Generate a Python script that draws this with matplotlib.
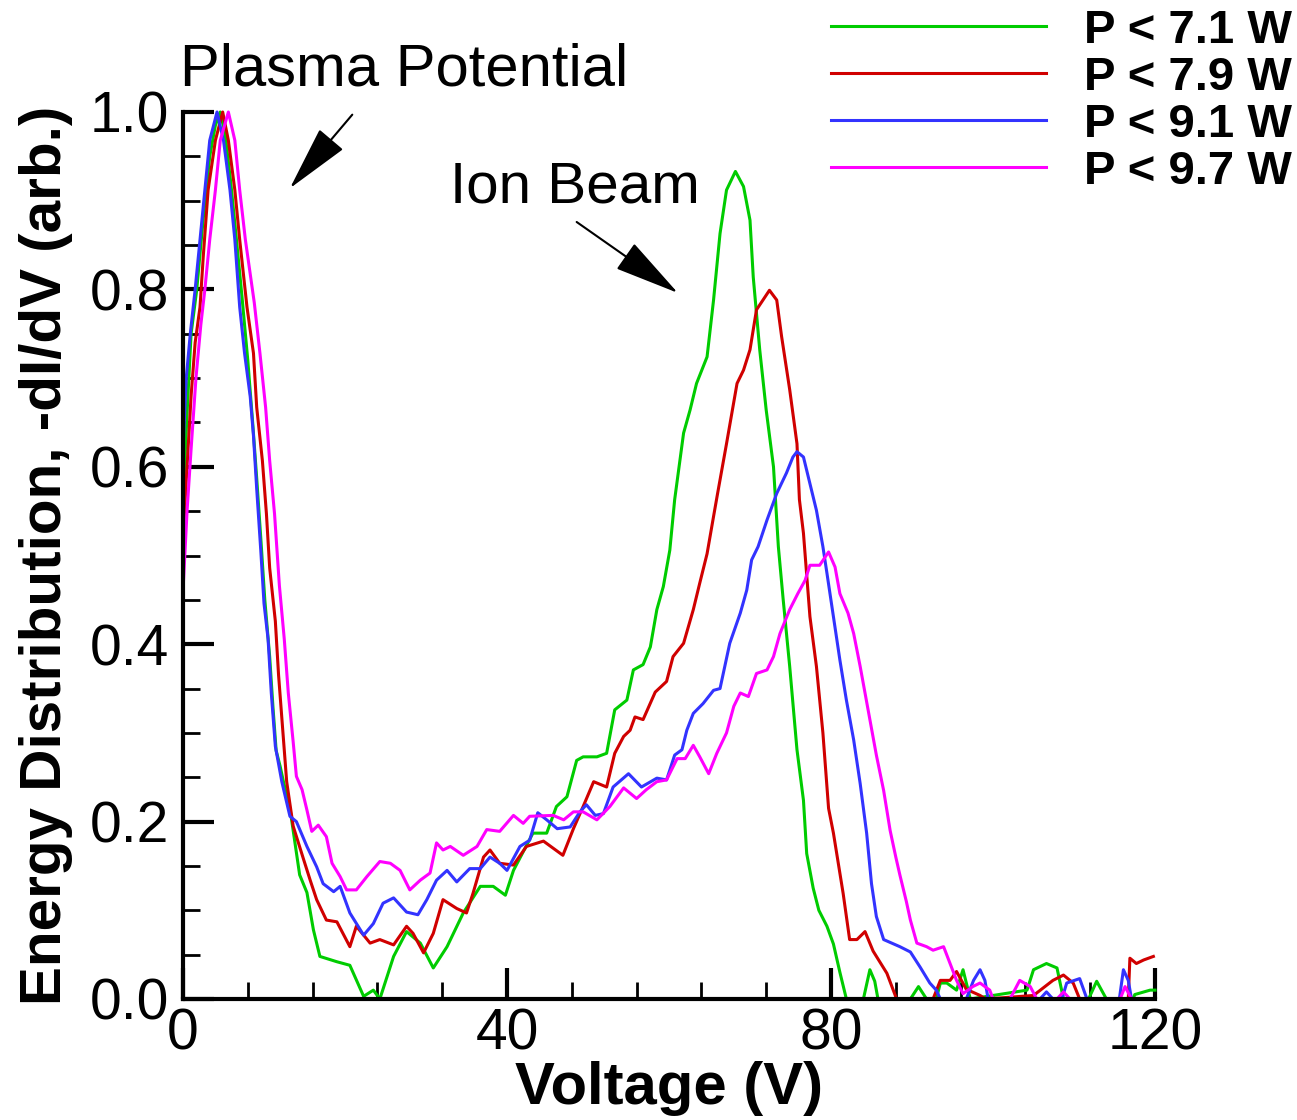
import numpy as np
import matplotlib
matplotlib.use("Agg")
import matplotlib.pyplot as plt
from matplotlib.ticker import MultipleLocator, FormatStrFormatter

plt.rcParams['font.family'] = ['Liberation Sans', 'DejaVu Sans']

# P < 7.1 W
v_71 = [0.0, 0.5, 1.0, 1.7, 2.5, 3.3, 4.0, 4.6, 5.2, 5.9, 6.6, 7.3, 8.0, 8.6, 9.1, 9.6,
        10.1, 10.7, 11.1, 11.5, 12.0, 12.4, 13.2, 13.6, 14.4, 15.3, 16.1, 16.9, 19.0, 20.6,
        22.3, 23.5, 24.3, 26.0, 27.6, 29.3, 30.9, 32.6, 34.6, 36.7, 38.3, 39.8, 40.8, 43.2,
        44.9, 46.1, 47.4, 48.6, 49.4, 51.1, 52.3, 53.3, 54.8, 55.6, 56.8, 57.7, 58.5, 59.3,
        60.1, 60.7, 61.8, 62.6, 63.4, 64.7, 65.5, 66.3, 67.1, 68.2, 69.2, 70.0, 70.4, 71.2,
        72.0, 72.9, 73.5, 74.1, 74.9, 75.8, 76.6, 77.0, 77.8, 78.5, 79.5, 80.3, 81.1, 81.9,
        84.0, 84.8, 85.4, 85.8, 89.8, 90.8, 91.8, 93.0, 93.5, 94.3, 95.5, 96.3, 97.2, 104.2,
        105.0, 106.6, 107.9, 108.7, 111.8, 112.8, 114.0, 117.3, 117.5, 119.4, 120.0]
y_71 = [0.56, 0.66, 0.75, 0.80, 0.88, 0.95, 0.985, 1.0, 0.975, 0.92, 0.856, 0.79, 0.72, 0.65, 0.587, 0.52,
        0.45, 0.386, 0.33, 0.28, 0.262, 0.245, 0.215, 0.19, 0.14, 0.12, 0.078, 0.048, 0.042, 0.038,
        0.003, 0.01, 0.0, 0.048, 0.076, 0.063, 0.035, 0.059, 0.097, 0.127, 0.127, 0.117, 0.145, 0.187,
        0.187, 0.217, 0.228, 0.269, 0.273, 0.273, 0.277, 0.326, 0.337, 0.371, 0.377, 0.397, 0.439, 0.465,
        0.506, 0.563, 0.638, 0.664, 0.694, 0.724, 0.788, 0.863, 0.912, 0.933, 0.916, 0.878, 0.814, 0.732,
        0.664, 0.600, 0.51, 0.45, 0.375, 0.281, 0.224, 0.164, 0.125, 0.100, 0.082, 0.062, 0.03, 0.0,
        0.0, 0.033, 0.02, 0.0, 0.0, 0.014, 0.0, 0.0, 0.018, 0.018, 0.01, 0.033, 0.0, 0.01,
        0.033, 0.040, 0.035, 0.0, 0.0, 0.02, 0.0, 0.0, 0.005, 0.01, 0.01]

# P < 7.9 W
v_79 = [0.0, 0.5, 1.0, 1.5, 2.1, 2.5, 3.1, 4.0, 4.9, 5.6, 6.4, 7.0, 7.9, 8.7, 9.1, 9.8,
        10.3, 10.7, 11.4, 11.8, 12.3, 12.8, 13.6, 14.9, 15.7, 16.5, 17.7, 19.0, 20.6, 21.4,
        23.1, 24.3, 26.0, 27.6, 28.4, 29.7, 30.9, 32.1, 33.8, 35.0, 35.8, 37.1, 37.9, 39.1,
        40.8, 42.4, 44.5, 46.9, 48.2, 49.4, 50.7, 52.3, 53.3, 54.4, 55.2, 55.8, 56.8, 58.3,
        59.7, 60.5, 61.8, 63.0, 63.8, 64.7, 65.5, 66.0, 67.1, 68.4, 69.2, 70.0, 70.8, 71.6,
        72.4, 73.3, 73.9, 74.9, 75.8, 76.1, 76.6, 77.4, 78.2, 79.0, 79.7, 80.3, 81.5, 82.3,
        83.2, 84.2, 85.2, 86.9, 88.1, 92.6, 93.5, 94.7, 95.5, 96.7, 98.4, 99.1, 105.0, 107.4,
        108.7, 109.9, 110.7, 116.7, 116.9, 117.7, 118.6, 119.8]
y_79 = [0.52, 0.60, 0.68, 0.74, 0.78, 0.837, 0.912, 0.968, 1.0, 0.968, 0.912, 0.856, 0.78, 0.728, 0.667, 0.607,
        0.547, 0.486, 0.426, 0.365, 0.305, 0.245, 0.195, 0.157, 0.134, 0.112, 0.089, 0.087, 0.059, 0.082,
        0.063, 0.067, 0.061, 0.082, 0.074, 0.052, 0.074, 0.112, 0.102, 0.097, 0.119, 0.160, 0.168, 0.153,
        0.151, 0.172, 0.178, 0.162, 0.192, 0.217, 0.245, 0.239, 0.277, 0.296, 0.303, 0.318, 0.315, 0.346,
        0.358, 0.386, 0.401, 0.439, 0.469, 0.502, 0.544, 0.570, 0.626, 0.694, 0.709, 0.732, 0.777, 0.788,
        0.799, 0.788, 0.747, 0.687, 0.626, 0.563, 0.525, 0.431, 0.375, 0.300, 0.215, 0.187, 0.119, 0.067,
        0.067, 0.076, 0.054, 0.029, 0.0, 0.0, 0.021, 0.021, 0.031, 0.011, 0.004, 0.0, 0.004, 0.021,
        0.027, 0.018, 0.0, 0.0, 0.046, 0.040, 0.044, 0.048]

# P < 9.1 W
v_91 = [0.0, 0.4, 0.9, 1.5, 2.1, 2.7, 3.3, 4.2, 5.0, 5.8, 6.4, 7.0, 7.6, 8.3, 8.7, 9.1,
        9.6, 10.0, 10.5, 10.9, 11.4, 12.2, 13.2, 14.0, 15.3, 16.5, 17.3, 18.6, 19.4, 20.6,
        22.3, 23.5, 24.7, 26.0, 27.6, 29.0, 30.1, 31.3, 32.6, 33.8, 35.4, 36.7, 37.9, 39.1,
        40.0, 41.6, 42.8, 43.8, 44.9, 46.2, 47.8, 49.0, 49.8, 50.9, 51.9, 53.1, 55.0, 56.6,
        58.5, 59.7, 60.7, 61.6, 62.2, 63.0, 64.2, 65.5, 66.3, 67.5, 68.8, 69.6, 70.2, 71.0,
        72.1, 73.3, 74.5, 75.3, 75.8, 76.6, 77.4, 78.2, 79.0, 79.5, 80.3, 81.1, 81.9, 82.8,
        83.6, 84.4, 85.0, 85.6, 86.5, 88.5, 89.8, 91.0, 92.2, 93.0, 93.5, 96.7, 97.6, 98.4,
        99.0, 99.4, 105.8, 106.6, 107.4, 108.5, 109.1, 110.7, 111.6, 115.6, 116.1, 116.7, 117.1, 120.0]
y_91 = [0.62, 0.70, 0.75, 0.80, 0.856, 0.912, 0.968, 1.0, 0.968, 0.912, 0.856, 0.78, 0.728, 0.679, 0.635, 0.575,
        0.506, 0.446, 0.406, 0.345, 0.285, 0.245, 0.206, 0.2, 0.172, 0.149, 0.130, 0.121, 0.127, 0.097,
        0.072, 0.085, 0.108, 0.114, 0.098, 0.095, 0.112, 0.134, 0.145, 0.132, 0.147, 0.147, 0.160, 0.153,
        0.145, 0.172, 0.179, 0.210, 0.202, 0.192, 0.194, 0.211, 0.219, 0.207, 0.209, 0.239, 0.254, 0.239,
        0.249, 0.247, 0.275, 0.281, 0.303, 0.322, 0.333, 0.348, 0.350, 0.401, 0.435, 0.461, 0.495, 0.510,
        0.540, 0.570, 0.593, 0.611, 0.617, 0.611, 0.581, 0.551, 0.51, 0.48, 0.431, 0.382, 0.337, 0.292,
        0.243, 0.187, 0.130, 0.093, 0.067, 0.059, 0.053, 0.036, 0.018, 0.010, 0.0, 0.0, 0.021, 0.033,
        0.021, 0.0, 0.0, 0.008, 0.0, 0.0, 0.018, 0.023, 0.0, 0.0, 0.033, 0.021, 0.0, 0.0]

# P < 9.7 W
v_97 = [0.0, 0.5, 1.0, 1.6, 2.2, 2.7, 3.3, 4.0, 4.6, 5.6, 6.4, 7.0, 7.7, 8.8, 9.5, 10.2,
        10.7, 11.3, 11.9, 12.5, 13.0, 13.6, 14.0, 14.7, 15.3, 15.9, 16.7, 17.7, 18.4, 19.4,
        20.2, 21.4, 22.7, 24.3, 25.6, 26.8, 28.0, 29.3, 30.5, 31.3, 32.1, 33.0, 34.6, 36.3,
        37.5, 39.1, 40.8, 42.0, 42.8, 45.7, 47.0, 48.2, 49.4, 51.1, 52.7, 54.4, 56.0, 57.2,
        58.5, 59.7, 61.0, 62.0, 63.0, 63.8, 64.9, 65.9, 67.1, 68.0, 68.8, 69.8, 70.8, 72.1,
        72.9, 73.7, 74.9, 75.9, 76.8, 77.4, 78.6, 79.7, 80.5, 81.1, 82.1, 82.8, 83.6, 84.6,
        85.6, 86.5, 87.3, 88.0, 88.5, 89.3, 89.8, 90.6, 91.8, 92.6, 93.9, 94.7, 95.5, 96.3,
        97.5, 98.4, 99.6, 100.0, 102.1, 103.3, 104.6, 105.4, 107.9, 108.7, 109.5, 115.7, 116.3, 117.1, 120.0]
y_97 = [0.46, 0.55, 0.62, 0.70, 0.76, 0.80, 0.856, 0.912, 0.968, 1.0, 0.968, 0.912, 0.856, 0.785, 0.728, 0.667,
        0.607, 0.547, 0.466, 0.406, 0.345, 0.290, 0.251, 0.236, 0.213, 0.189, 0.196, 0.183, 0.153, 0.138,
        0.123, 0.123, 0.138, 0.155, 0.153, 0.145, 0.123, 0.134, 0.142, 0.176, 0.168, 0.172, 0.162, 0.172,
        0.191, 0.189, 0.207, 0.198, 0.206, 0.207, 0.202, 0.211, 0.211, 0.202, 0.217, 0.238, 0.226, 0.236,
        0.245, 0.247, 0.271, 0.271, 0.286, 0.273, 0.254, 0.277, 0.300, 0.330, 0.345, 0.341, 0.367, 0.371,
        0.386, 0.412, 0.439, 0.457, 0.472, 0.489, 0.489, 0.504, 0.487, 0.457, 0.435, 0.412, 0.375, 0.325,
        0.275, 0.235, 0.190, 0.160, 0.140, 0.110, 0.089, 0.063, 0.059, 0.055, 0.059, 0.040, 0.021, 0.006,
        0.014, 0.018, 0.010, 0.0, 0.0, 0.021, 0.014, 0.0, 0.0, 0.008, 0.0, 0.0, 0.014, 0.0, 0.0]

labels = ['P < 7.1 W', 'P < 7.9 W', 'P < 9.1 W', 'P < 9.7 W']
colors = ['#00cc00', '#d00000', '#3333ff', '#ff00ff']

fig = plt.figure(figsize=(12.97, 11.2), dpi=100)
ax = fig.add_axes([183 / 1297, 1 - 999 / 1120, 972 / 1297, 887 / 1120])

for v, y, lab, c in zip([v_71, v_79, v_91, v_97], [y_71, y_79, y_91, y_97], labels, colors):
    ax.plot(v, y, color=c, lw=2.2, label=lab, clip_on=False)

ax.set_xlim(0, 120)
ax.set_ylim(0, 1.0)
ax.spines['top'].set_visible(False)
ax.spines['right'].set_visible(False)
ax.spines['left'].set_linewidth(3)
ax.spines['bottom'].set_linewidth(3)

ax.xaxis.set_major_locator(MultipleLocator(40))
ax.xaxis.set_minor_locator(MultipleLocator(8))
ax.yaxis.set_major_locator(MultipleLocator(0.2))
ax.yaxis.set_minor_locator(MultipleLocator(0.05))
ax.yaxis.set_major_formatter(FormatStrFormatter('%.1f'))
ax.tick_params(which='major', direction='in', length=22, width=3, labelsize=41)
ax.tick_params(which='minor', direction='in', length=12, width=2)
ax.tick_params(axis='y', which='major', pad=10)
ax.tick_params(axis='x', which='major', pad=6)

ax.set_xlabel('Voltage (V)', fontsize=43, fontweight='bold', labelpad=0)
ax.set_ylabel('Energy Distribution, -dI/dV (arb.)', fontsize=42, fontweight='bold', labelpad=12)

ax.text(-0.4, 1.03, 'Plasma Potential', fontsize=43, va='baseline', ha='left', clip_on=False)
ax.text(33.0, 0.898, 'Ion Beam', fontsize=42, va='baseline', ha='left')

arrow = dict(arrowstyle='-|>,head_length=2.1,head_width=0.5', lw=1.5, color='black',
             mutation_scale=20, shrinkA=0, shrinkB=0)
ax.annotate('', xy=(13.2, 0.914), xytext=(20.9, 0.997), arrowprops=arrow, annotation_clip=False)
ax.annotate('', xy=(61.1, 0.796), xytext=(48.6, 0.876), arrowprops=arrow, annotation_clip=False)

ax.legend(loc='upper right', bbox_to_anchor=(1292 / 1297, 1 - 9 / 1120), bbox_transform=fig.transFigure,
          frameon=False, prop={'weight': 'bold', 'size': 34}, handlelength=4.55, handletextpad=0.8,
          labelspacing=0.06, borderpad=0, borderaxespad=0)

fig.savefig('out.png', dpi=100)
